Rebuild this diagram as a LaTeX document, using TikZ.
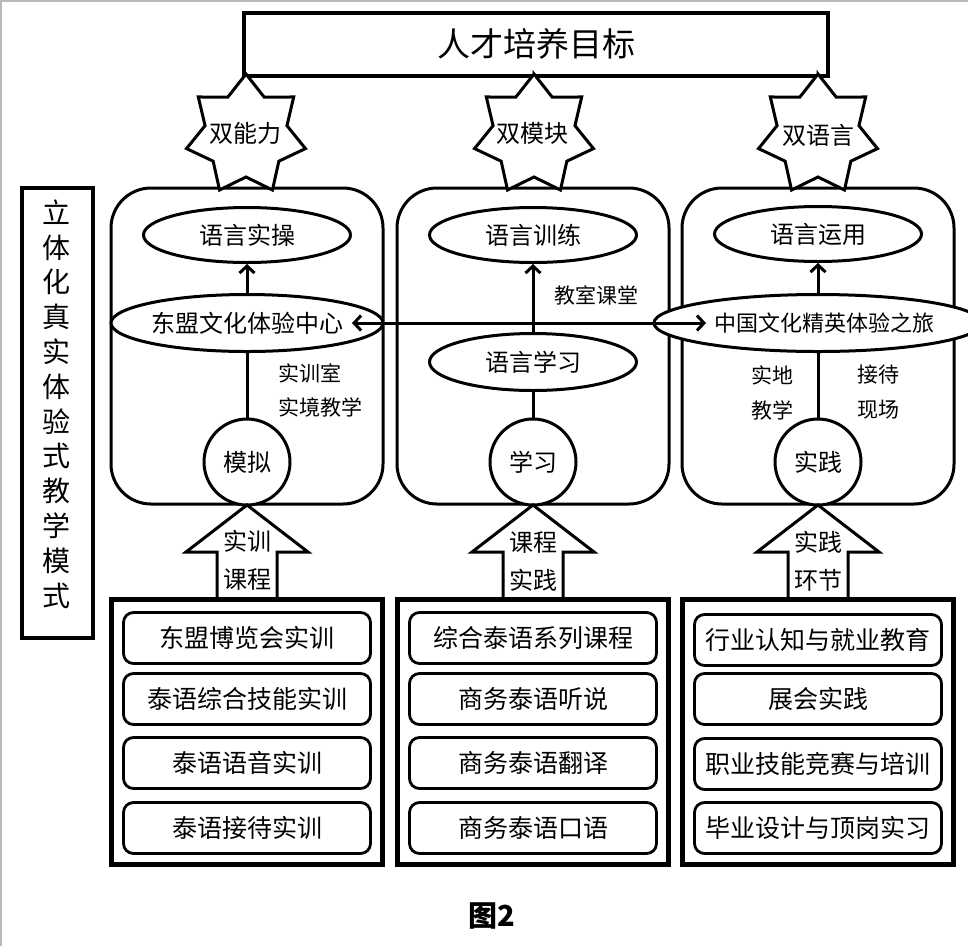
\documentclass[tikz,border=0pt]{standalone}
\usepackage{fontspec}
\setmainfont{Noto Sans CJK SC}
\usetikzlibrary{arrows.meta,shapes.geometric,calc}
\newcommand{\drawstarshape}[1]{%
  \draw[ln, fill=white] ([shift={(#1)}]-90:61)
    \foreach \i [evaluate=\i as \aa using -90+\i*360/7+360/14, evaluate=\i as \bb using -90+\i*360/7+360/7] in {0,...,6} { -- ([shift={(#1)}]\aa:42) -- ([shift={(#1)}]\bb:61) } -- cycle;}
\begin{document}
\begin{tikzpicture}[x=1pt,y=-1pt,
  ln/.style={line width=3pt, line join=miter},
  colbox/.style={draw, line width=3pt, rounded corners=40pt, minimum width=272pt, minimum height=316pt, inner sep=0pt},
  ell/.style={draw, ellipse, line width=3pt, fill=white, inner sep=0pt, minimum width=207pt, minimum height=55pt, font=\fontsize{24}{28}\selectfont},
  bigell/.style={ell, minimum width=272pt, minimum height=57pt},
  circ/.style={draw, circle, line width=3pt, fill=white, minimum size=86pt, inner sep=0pt, font=\fontsize{24}{28}\selectfont},
  lbl/.style={inner sep=0pt, font=\fontsize{21}{25}\selectfont},
  startxt/.style={inner sep=0pt, font=\fontsize{24}{28}\selectfont},
  arrtxt/.style={inner sep=0pt, align=center, font=\fontsize{24}{38}\selectfont},
  item/.style={draw, rounded corners=10pt, line width=2.8pt, minimum width=247pt, minimum height=51pt, inner sep=0pt, font=\fontsize{25}{30}\selectfont},
  outerbox/.style={draw, line width=4.5pt, minimum width=271pt, minimum height=265pt, inner sep=0pt},
  arr/.style={ln, -{Straight Barb[length=7pt,width=15pt]}},
  dblarr/.style={ln, {Straight Barb[length=7pt,width=15pt]}-{Straight Barb[length=7pt,width=15pt]}}
]
\useasboundingbox (0,0) rectangle (968,946);
\draw[gray!55, line width=1.5pt] (1,946) -- (1,1) -- (968,1);

% title
\node[draw, line width=4pt, minimum width=584pt, minimum height=63pt, inner sep=0pt, font=\fontsize{33}{36}\selectfont] (goal) at (536,44) {人才培养目标};

% left vertical box
\node[draw, line width=4pt, minimum width=71pt, minimum height=450pt, inner sep=0pt] (mode) at (57,413) {};
\node[inner sep=0pt, align=center, font=\fontsize{28}{34.8}\selectfont] (modetxt) at (56,404) {立\\体\\化\\真\\实\\体\\验\\式\\教\\学\\模\\式};

% columns
\node[colbox] (colL) at (247,346) {};
\node[colbox] (colM) at (533,346) {};
\node[colbox] (colR) at (818,346) {};

% stars
\coordinate (stL) at (246,135);
\coordinate (stM) at (534,135);
\coordinate (stR) at (818,135);
\drawstarshape{stL}
\drawstarshape{stM}
\drawstarshape{stR}
\node[startxt] (sL) at (245,133) {双能力};
\node[startxt] (sM) at (532,133) {双模块};
\node[startxt] (sR) at (818,135) {双语言};

% ellipses
\node[ell] (eLt) at (247,235) {语言实操};
\node[ell] (eMt) at (533,235) {语言训练};
\node[ell] (eRt) at (818,234) {语言运用};
\node[bigell] (eLm) at (247,323) {东盟文化体验中心};
\node[bigell, font=\fontsize{22}{26}\selectfont] (eRm) at (818,323) {\hspace*{12pt}中国文化精英体验之旅};
\node[ell, minimum height=57pt] (eMl) at (533,362) {语言学习};

% circles
\node[circ] (cL) at (247,462) {模拟};
\node[circ] (cM) at (533,462) {学习};
\node[circ] (cR) at (818,462) {实践};

% vertical connectors
\draw[ln] (cL) -- (eLm);
\draw[arr] (eLm) -- (eLt);
\draw[ln] (cM) -- (eMl);
\draw[arr] (eMl) -- (eMt);
\draw[ln] (cR) -- (eRm);
\draw[arr] (eRm) -- (eRt);

% horizontal double arrow
\coordinate (hA) at (352,323);
\coordinate (hB) at (706,323);
\draw[dblarr] (hA) -- (hB);

% labels
\node[lbl, anchor=west] (l1) at (278,373) {实训室};
\node[lbl, anchor=west] (l2) at (278,407) {实境教学};
\node[lbl] (l3) at (596,295) {教室课堂};
\node[lbl] (l4) at (772,375) {实地};
\node[lbl] (l5) at (772,410) {教学};
\node[lbl] (l6) at (878,375) {接待};
\node[lbl] (l7) at (878,410) {现场};

% block arrows
\foreach \cx in {247,533,818} {
  \draw[ln, fill=white] (\cx,505) -- (\cx+61,552) -- (\cx+30,552) -- (\cx+30,600) -- (\cx-30,600) -- (\cx-30,552) -- (\cx-61,552) -- cycle;
}
\node[arrtxt] (aL) at (247,560) {实训\\课程};
\node[arrtxt] (aM) at (533,561) {课程\\实践};
\node[arrtxt] (aR) at (818,561) {实践\\环节};

% bottom boxes
\node[outerbox] (bL) at (247,732) {};
\node[outerbox] (bM) at (533,732) {};
\node[outerbox] (bR) at (818,732) {};

\node[item] (iL1) at (247,638) {东盟博览会实训};
\node[item] (iL2) at (247,699) {泰语综合技能实训};
\node[item] (iL3) at (247,763) {泰语语音实训};
\node[item] (iL4) at (247,828) {泰语接待实训};

\node[item] (iM1) at (533,638) {综合泰语系列课程};
\node[item] (iM2) at (533,699) {商务泰语听说};
\node[item] (iM3) at (533,763) {商务泰语翻译};
\node[item] (iM4) at (533,828) {商务泰语口语};

\node[item] (iR1) at (818,640) {行业认知与就业教育};
\node[item] (iR2) at (818,699) {展会实践};
\node[item] (iR3) at (818,764) {职业技能竞赛与培训};
\node[item] (iR4) at (818,828) {毕业设计与顶岗实习};

% caption
\node[inner sep=0pt, font=\fontsize{29}{32}\selectfont\bfseries] (cap) at (492,916) {图2};
\end{tikzpicture}
\end{document}
